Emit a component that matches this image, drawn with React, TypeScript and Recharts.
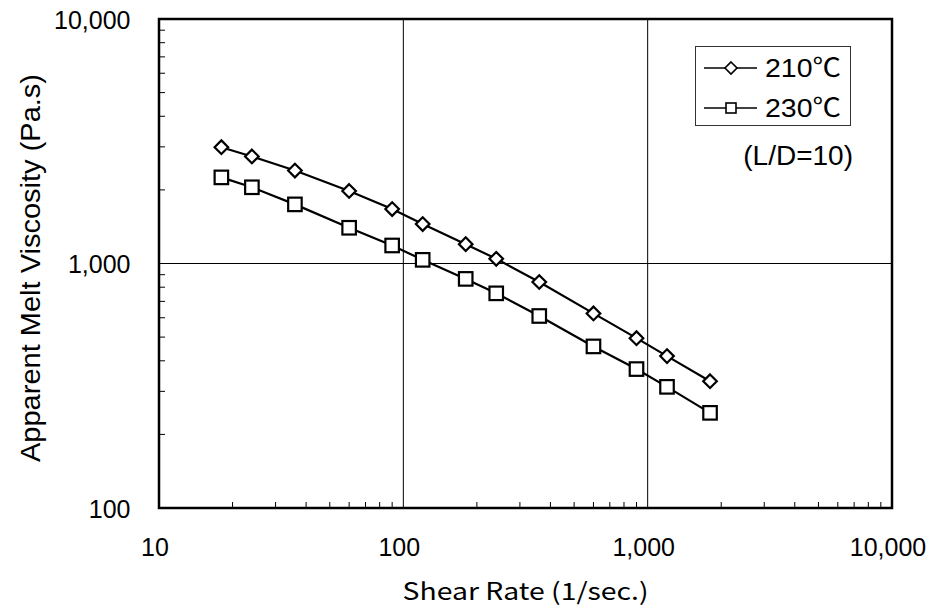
import React from 'react';
import {
  ScatterChart,
  Scatter,
  XAxis,
  YAxis,
  ReferenceLine,
  ReferenceArea,
  Legend,
} from 'recharts';

// ---------------- data ----------------
const shearRates = [18, 24, 36, 60, 90, 120, 180, 240, 360, 600, 900, 1200, 1800];
const visc210 = [2990, 2740, 2400, 1980, 1670, 1450, 1200, 1045, 840, 625, 495, 418, 330];
const visc230 = [2250, 2050, 1745, 1400, 1185, 1035, 865, 755, 610, 458, 370, 313, 245];
const seriesNames = ['210℃', '230℃'];

const xMajorTicks = [10, 100, 1000, 10000];
const xMinorTicks = [20, 30, 40, 50, 60, 70, 80, 90, 200, 300, 400, 500, 600, 700, 800, 900, 2000, 3000, 4000, 5000, 6000, 7000, 8000, 9000];
const yMajorTicks = [100, 1000, 10000];
const yMinorTicks = [200, 300, 400, 500, 600, 700, 800, 900, 2000, 3000, 4000, 5000, 6000, 7000, 8000, 9000];
const xGridValues = [100, 1000];
const yGridValues = [1000];

const xTitle = 'Shear Rate (1/sec.)';
const yTitle = 'Apparent Melt Viscosity (Pa.s)';
const noteText = '(L/D=10)';

const data210 = shearRates.map((x, i) => ({ x, y: visc210[i] }));
const data230 = shearRates.map((x, i) => ({ x, y: visc230[i] }));

// ---------------- layout / styling ----------------
const CHART_W = 926;
const CHART_H = 600;
const PLOT_LEFT = 151;
const PLOT_TOP = 11;
const PLOT_RIGHT = 884;
const PLOT_BOTTOM = 500;

const FONT = '"Liberation Sans", Arial, "Noto Sans CJK JP", sans-serif';
const JP_FONT = '"Noto Sans CJK JP", "Liberation Sans", sans-serif';
const TICK_MARGIN = 10;
const MINOR_LEN = 6;

const fmt = (v: number) => v.toLocaleString('en-US');

const XTick = (props: any) => {
  const { x, y, payload } = props;
  const v = payload.value;
  const bottom = y - TICK_MARGIN;
  const major = xMajorTicks.includes(v);
  return (
    <g>
      {!major && (
        <line x1={x} y1={bottom} x2={x} y2={bottom - MINOR_LEN} stroke="#000" strokeWidth={1} />
      )}
      {major && (
        <text
          x={x - 4}
          y={bottom + 39}
          dy="0.355em"
          textAnchor="middle"
          fontFamily={FONT}
          fontSize={25}
          fill="#000"
        >
          {fmt(v)}
        </text>
      )}
    </g>
  );
};

const YTick = (props: any) => {
  const { x, y, payload } = props;
  const v = payload.value;
  const left = x + TICK_MARGIN;
  const major = yMajorTicks.includes(v);
  return (
    <g>
      {!major && (
        <line x1={left} y1={y} x2={left + MINOR_LEN} y2={y} stroke="#000" strokeWidth={1} />
      )}
      {major && (
        <text
          x={left - 28.5}
          y={y + 1}
          dy="0.355em"
          textAnchor="end"
          fontFamily={FONT}
          fontSize={25}
          fill="#000"
        >
          {fmt(v)}
        </text>
      )}
    </g>
  );
};

const Diamond = (props: any) => {
  const { cx, cy } = props;
  const r = 6.8;
  return (
    <polygon
      points={`${cx},${cy - r} ${cx + r},${cy} ${cx},${cy + r} ${cx - r},${cy}`}
      fill="#fff"
      stroke="#000"
      strokeWidth={2.2}
    />
  );
};

const Square = (props: any) => {
  const { cx, cy } = props;
  const s = 13.5;
  return <rect x={cx - s / 2} y={cy - s / 2} width={s} height={s} fill="#fff" stroke="#000" strokeWidth={2.2} />;
};

const renderLegend = () => (
  <svg width={170} height={125} style={{ display: 'block', overflow: 'visible' }}>
    <rect x={0.5} y={0.5} width={155} height={79} fill="#fff" stroke="#333" strokeWidth={1} />
    <line x1={9} y1={22} x2={62} y2={22} stroke="#000" strokeWidth={1.6} />
    <polygon points="36,16 42,22 36,28 30,22" fill="#fff" stroke="#000" strokeWidth={1.6} />
    <text x={70} y={22} dy="0.355em" fontFamily={FONT} fontSize={26} textLength={76} lengthAdjust="spacingAndGlyphs" fill="#000">
      {seriesNames[0]}
    </text>
    <line x1={9} y1={62} x2={62} y2={62} stroke="#000" strokeWidth={1.6} />
    <rect x={31} y={57} width={10} height={10} fill="#fff" stroke="#000" strokeWidth={1.6} />
    <text x={70} y={62} dy="0.355em" fontFamily={FONT} fontSize={26} textLength={76} lengthAdjust="spacingAndGlyphs" fill="#000">
      {seriesNames[1]}
    </text>
    <text x={158} y={109} dy="0.355em" textAnchor="end" fontFamily={FONT} fontSize={28} fill="#000">
      {noteText}
    </text>
  </svg>
);

const XTitle = () => {
  const cx = (PLOT_LEFT + PLOT_RIGHT) / 2;
  const cy = PLOT_BOTTOM + 83;
  return (
    <text
      x={cx}
      y={cy}
      dy="0.355em"
      textAnchor="middle"
      fontFamily={JP_FONT}
      fontSize={24}
      textLength={246}
      lengthAdjust="spacingAndGlyphs"
      fill="#000"
    >
      {xTitle}
    </text>
  );
};

// Title drawn upward from its bottom end, rotated, with a fixed length.
const YTitle = () => {
  const cx = 22;
  const bottomY = 454; // svg coords of the first letter's foot
  return (
    <g transform={`translate(${cx} ${bottomY}) rotate(-90)`}>
      <text
        x={0}
        y={0}
        dy="0.355em"
        textAnchor="start"
        fontFamily={FONT}
        fontSize={27.5}
        textLength={388}
        lengthAdjust="spacingAndGlyphs"
        fill="#000"
      >
        {yTitle}
      </text>
    </g>
  );
};

export default function App() {
  return (
    <div style={{ width: CHART_W, height: CHART_H, position: 'relative' }}>
      <ScatterChart
        width={CHART_W}
        height={CHART_H}
        margin={{ top: PLOT_TOP, right: CHART_W - PLOT_RIGHT, bottom: 0, left: 0 }}
      >
        <XAxis
          type="number"
          dataKey="x"
          scale="log"
          domain={[10, 10000]}
          allowDataOverflow
          ticks={[...xMajorTicks, ...xMinorTicks].sort((a, b) => a - b)}
          interval={0}
          tickLine={false}
          axisLine={false}
          tickSize={0}
          tickMargin={TICK_MARGIN}
          height={CHART_H - PLOT_BOTTOM}
          tick={(p: any) => <XTick {...p} />}
          label={{ content: () => <XTitle /> }}
        />
        <YAxis
          type="number"
          dataKey="y"
          scale="log"
          domain={[100, 10000]}
          allowDataOverflow
          ticks={[...yMajorTicks, ...yMinorTicks].sort((a, b) => a - b)}
          interval={0}
          tickLine={false}
          axisLine={false}
          tickSize={0}
          tickMargin={TICK_MARGIN}
          width={PLOT_LEFT}
          tick={(p: any) => <YTick {...p} />}
          label={{ content: () => <YTitle /> }}
        />
        {xGridValues.map((v) => (
          <ReferenceLine key={`gx${v}`} x={v} stroke="#000" strokeWidth={1} />
        ))}
        {yGridValues.map((v) => (
          <ReferenceLine key={`gy${v}`} y={v} stroke="#000" strokeWidth={1} />
        ))}
        <ReferenceArea
          x1={10}
          x2={10000}
          y1={100}
          y2={10000}
          fill="none"
          fillOpacity={0}
          stroke="#000"
          strokeWidth={2.5}
          ifOverflow="visible"
        />
        <Scatter
          name={seriesNames[0]}
          data={data210}
          line={{ stroke: '#000', strokeWidth: 2.2 }}
          lineType="joint"
          shape={(p: any) => <Diamond {...p} />}
          isAnimationActive={false}
        />
        <Scatter
          name={seriesNames[1]}
          data={data230}
          line={{ stroke: '#000', strokeWidth: 2.2 }}
          lineType="joint"
          shape={(p: any) => <Square {...p} />}
          isAnimationActive={false}
        />
        <Legend
          layout="vertical"
          align="center"
          verticalAlign="middle"
          wrapperStyle={{ position: 'absolute', left: 687, top: 38, width: 170, height: 125 }}
          content={renderLegend}
        />
      </ScatterChart>
    </div>
  );
}
